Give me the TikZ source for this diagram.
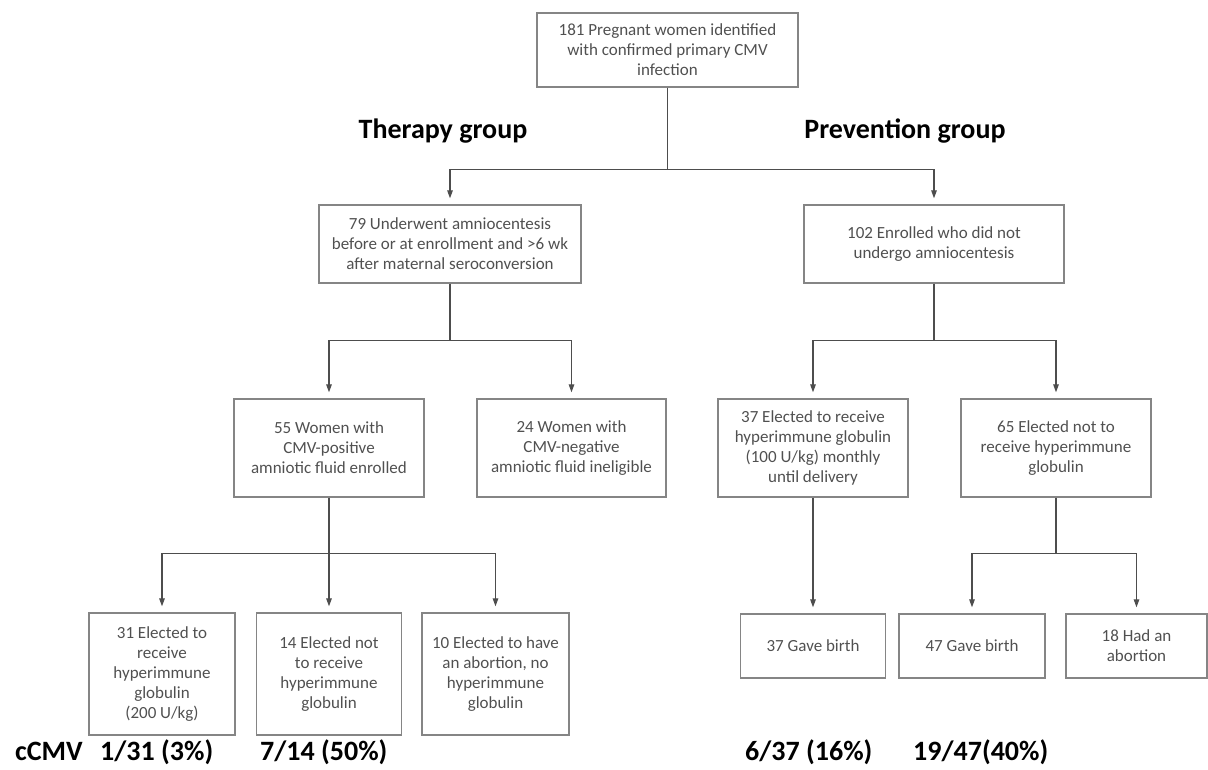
\documentclass[tikz,border=0pt]{standalone}
\usepackage{fontspec}
\setmainfont{Carlito}
\usetikzlibrary{arrows.meta}
\definecolor{boxline}{HTML}{858585}
\definecolor{boxtext}{HTML}{505050}
\definecolor{linkline}{HTML}{4D4D4D}
\tikzset{
  flowbox/.style={draw=boxline, line width=1.3pt, align=center, text=boxtext,
    inner sep=0pt, font=\fontsize{17}{20}\selectfont},
  link/.style={draw=linkline, line width=1.2pt},
  linkarrow/.style={link, -{Triangle[length=8pt,width=5.5pt]}, shorten >=6pt},
  grouphead/.style={font=\bfseries\fontsize{28}{30}\selectfont},
  rate/.style={font=\bfseries\fontsize{28}{30}\selectfont, anchor=base west, inner sep=0pt}
}

\begin{document}
\begin{tikzpicture}[x=1pt,y=-1pt]
\useasboundingbox (0,0) rectangle (1208,769);
\node [flowbox, minimum width=261, minimum height=74] (top) at (667.5,50)
  {181 Pregnant women identified\\with confirmed primary CMV\\infection};
\node [grouphead] (therhead) at (443,131) {Therapy group};
\node [grouphead] (prevhead) at (905,131) {Prevention group};
\node [flowbox, minimum width=262, minimum height=78] (ther) at (450,244)
  {79 Underwent amniocentesis\\before or at enrollment and >6 wk\\after maternal seroconversion};
\node [flowbox, minimum width=260, minimum height=78] (prev) at (934,244)
  {102 Enrolled who did not\\undergo amniocentesis};
\node [flowbox, minimum width=190, minimum height=98] (pos) at (329,448)
  {55 Women with\\CMV-positive\\amniotic fluid enrolled};
\node [flowbox, minimum width=189, minimum height=98] (neg) at (571.5,448)
  {24 Women with\\CMV-negative\\amniotic fluid ineligible};
\node [flowbox, minimum width=190, minimum height=98] (hig) at (813,448)
  {37 Elected to receive\\hyperimmune globulin\\(100 U/kg) monthly\\until delivery};
\node [flowbox, minimum width=190, minimum height=98] (nohig) at (1056,448)
  {65 Elected not to\\receive hyperimmune\\globulin};
\node [flowbox, minimum width=146, minimum height=122] (b31) at (162,674)
  {31 Elected to\\receive\\hyperimmune\\globulin\\(200 U/kg)};
\node [flowbox, minimum width=145, minimum height=122] (b14) at (329,674)
  {14 Elected not\\to receive\\hyperimmune\\globulin};
\node [flowbox, minimum width=147, minimum height=122] (b10) at (495.5,674)
  {10 Elected to have\\an abortion, no\\hyperimmune\\globulin};
\node [flowbox, minimum width=145, minimum height=64] (g37) at (813,646) {37 Gave birth};
\node [flowbox, minimum width=146, minimum height=64] (g47) at (972,646) {47 Gave birth};
\node [flowbox, minimum width=141, minimum height=64] (ab18) at (1136.5,646) {18 Had an\\abortion};
\draw [link] (top.south) -- ++(0,82) coordinate (split1);
\draw [linkarrow] (split1) -| (ther.north);
\draw [linkarrow] (split1) -| (prev.north);
\draw [link] (ther.south) -- ++(0,57) coordinate (split2);
\draw [linkarrow] (split2) -| (pos.north);
\draw [linkarrow] (split2) -| (neg.north);
\draw [link] (prev.south) -- ++(0,57) coordinate (split3);
\draw [linkarrow] (split3) -| (hig.north);
\draw [linkarrow] (split3) -| (nohig.north);
\draw [link] (pos.south) -- ++(0,56) coordinate (split4);
\draw [linkarrow] (split4) -| (b31.north);
\draw [linkarrow] (split4) -- (b14.north);
\draw [linkarrow] (split4) -| (b10.north);
\draw [linkarrow] (hig.south) -- (g37.north);
\draw [link] (nohig.south) -- ++(0,56) coordinate (split5);
\draw [linkarrow] (split5) -| (g47.north);
\draw [linkarrow] (split5) -| (ab18.north);
\node [rate] (cmv) at (15,760) {cCMV};
\node [rate] (rate31) at (100,760) {1/31 (3\%)};
\node [rate] (rate14) at (260,760) {7/14 (50\%)};
\node [rate] (rate37) at (745,760) {6/37 (16\%)};
\node [rate] (rate47) at (913,760) {19/47(40\%)};
\end{tikzpicture}
\end{document}
